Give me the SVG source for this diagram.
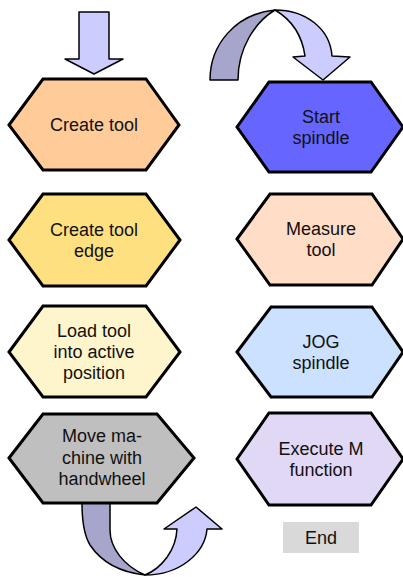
<svg xmlns="http://www.w3.org/2000/svg" width="403" height="577" viewBox="0 0 403 577">
  <style>
    .hex { stroke: #000; stroke-width: 3; stroke-linejoin: miter; }
    .lbl { font-family: "Liberation Sans", Arial, sans-serif; font-size: 18px; fill: #111; text-anchor: middle; }
    .arrow-front { fill: #CCCCFF; stroke: #000; stroke-width: 1.5; stroke-linejoin: round; }
    .arrow-back { fill: #A6A6CC; stroke: #000; stroke-width: 1.5; stroke-linejoin: round; }
  </style>
  <rect width="403" height="577" fill="#fff"/>

  <!-- connectors -->
  <g id="connectors">
    <!-- entry arrow into first step -->
    <path class="arrow-front" d="M79,12 L109,12 L109,59 L123,59 L94,74 L65,59 L79,59 Z"/>
    <!-- u-turn arrow from left column bottom -->
    <path class="arrow-back" d="M82,503 L110,503 L110,530 C110,548 124,566 145,575 C118,572 100,560 90,545 C84,535 82,520 82,503 Z"/>
    <path class="arrow-front" d="M145,575 C162,568 176,550 177,529 L164,529 L196,507 L222,529 L207,529 C205,553 180,575 145,575 Z"/>
    <!-- u-turn arrow into right column top -->
    <path class="arrow-back" d="M210,80 C210,45 235,14 275,10 C255,22 238,48 238,80 Z"/>
    <path class="arrow-front" d="M275,10 C305,10 330,28 332,56 L350,57 L323,80 L293,57 L305,56 C302,35 292,20 275,10 Z"/>
  </g>

  <!-- left column -->
  <g id="create-tool">
    <polygon class="hex" fill="#FFCC99" points="9,125 43,79 146,79 179,125 146,170 43,170"/>
    <text class="lbl" x="94" y="131">Create tool</text>
  </g>
  <g id="create-tool-edge">
    <polygon class="hex" fill="#FFE080" points="9,240 43,194 146,194 180,240 146,286 43,286"/>
    <text class="lbl" x="94" y="236">Create tool</text>
    <text class="lbl" x="94" y="257">edge</text>
  </g>
  <g id="load-tool">
    <polygon class="hex" fill="#FFF5CC" points="9,352 43,306 146,306 180,352 146,397 43,397"/>
    <text class="lbl" x="94" y="337">Load tool</text>
    <text class="lbl" x="94" y="358">into active</text>
    <text class="lbl" x="94" y="379">position</text>
  </g>
  <g id="move-machine">
    <polygon class="hex" fill="#BFBFBF" points="9,458 43,414 157,414 194,458 157,503 43,503"/>
    <text class="lbl" x="102" y="442">Move ma-</text>
    <text class="lbl" x="102" y="464">chine with</text>
    <text class="lbl" x="102" y="485">handwheel</text>
  </g>

  <!-- right column -->
  <g id="start-spindle">
    <polygon class="hex" fill="#6666FF" points="237,127 269,82 371,82 403,127 371,172 269,172"/>
    <text class="lbl" x="321" y="123">Start</text>
    <text class="lbl" x="321" y="144">spindle</text>
  </g>
  <g id="measure-tool">
    <polygon class="hex" fill="#FFDDC7" points="237,239 270,194 372,194 403,239 372,285 270,285"/>
    <text class="lbl" x="321" y="235">Measure</text>
    <text class="lbl" x="321" y="256">tool</text>
  </g>
  <g id="jog-spindle">
    <polygon class="hex" fill="#CCE0FF" points="237,352 271,307 372,307 403,352 372,397 271,397"/>
    <text class="lbl" x="321" y="348">JOG</text>
    <text class="lbl" x="321" y="369">spindle</text>
  </g>
  <g id="execute-m">
    <polygon class="hex" fill="#E0D8F4" points="237,459 269,413 371,413 403,459 371,505 269,505"/>
    <text class="lbl" x="321" y="455">Execute M</text>
    <text class="lbl" x="321" y="476">function</text>
  </g>
  <g id="end">
    <rect x="283" y="522" width="76" height="31" fill="#D9D9D9"/>
    <text class="lbl" x="321" y="544">End</text>
  </g>
</svg>
